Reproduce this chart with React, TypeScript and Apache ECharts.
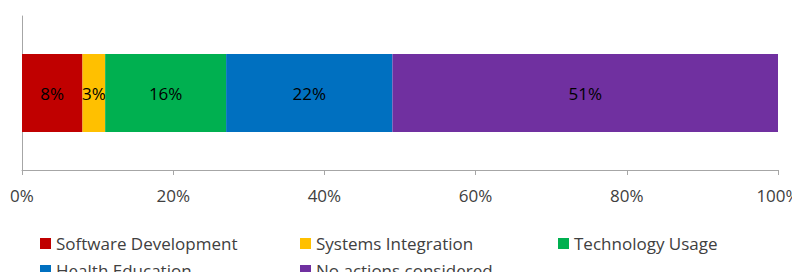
import React, { useEffect, useRef } from "react";
import * as echarts from "echarts";

const categories = ["Actions"];
const seriesNames = [
  "Software Development",
  "Systems Integration",
  "Technology Usage",
  "Health Education",
  "No actions considered",
];
const seriesValues = [8, 3, 16, 22, 51];
const seriesColors = ["#C00000", "#FFC000", "#00B050", "#0070C0", "#7030A0"];
const legendPositions = [
  [40, 235],
  [300, 235],
  [558, 235],
  [40, 262],
  [300, 262],
];

const FONT = "Open Sans";

export default function App() {
  const ref = useRef<HTMLDivElement>(null);
  useEffect(() => {
    if (!ref.current) return;
    const chart = echarts.init(ref.current, null, { renderer: "svg" });
    chart.setOption({
      animation: false,
      grid: {
        left: 22,
        right: 22,
        top: 16,
        bottom: 110,
        containLabel: false,
        outerBoundsMode: "none",
      },
      xAxis: {
        type: "value",
        min: 0,
        max: 100,
        interval: 20,
        axisLine: { show: true, lineStyle: { color: "#A6A6A6", width: 1 } },
        axisTick: { show: true, length: 5, lineStyle: { color: "#A6A6A6" } },
        splitLine: { show: false },
        axisLabel: {
          formatter: "{value}%",
          margin: 17,
          fontSize: 17,
          fontFamily: FONT,
          color: "#404040",
        },
      },
      yAxis: {
        type: "category",
        data: categories,
        axisLine: { show: true, lineStyle: { color: "#A6A6A6", width: 1 } },
        axisTick: { show: false },
        axisLabel: { show: false },
      },
      legend: seriesNames.map((n, i) => ({
        data: [n],
        left: legendPositions[i][0],
        top: legendPositions[i][1],
        icon: "rect",
        itemWidth: 11,
        itemHeight: 11,
        padding: 0,
        textStyle: { fontSize: 17, fontFamily: FONT, color: "#404040" },
      })),
      series: seriesNames.map((n, i) => ({
        name: n,
        type: "bar",
        stack: "total",
        barWidth: 78,
        data: [seriesValues[i]],
        itemStyle: { color: seriesColors[i] },
        label: {
          show: true,
          position: "inside",
          formatter: "{c}%",
          fontSize: 17,
          fontFamily: FONT,
          color: "#000",
        },
      })),
    });
    return () => chart.dispose();
  }, []);
  return <div ref={ref} style={{ width: 800, height: 280, margin: -8 }} />;
}
